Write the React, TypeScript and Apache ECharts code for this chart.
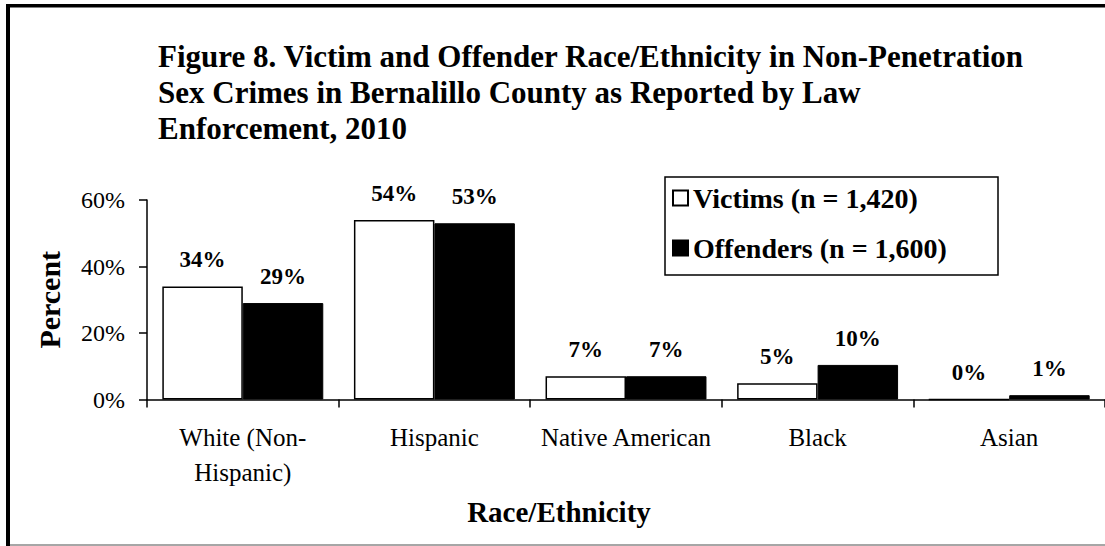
import React, { useEffect, useRef } from "react";
import * as echarts from "echarts";

const categories = ["White (Non-\nHispanic)", "Hispanic", "Native American", "Black", "Asian"];
const victims = [34, 54, 7, 4.9, 0];
const offenders = [29, 53, 7, 10.4, 1.3];
const yTicks = [0, 20, 40, 60];
const titleLines = [
  "Figure 8. Victim and Offender Race/Ethnicity in Non-Penetration",
  "Sex Crimes in Bernalillo County as Reported by Law",
  "Enforcement, 2010",
];
const victimsName = "Victims (n = 1,420)";
const offendersName = "Offenders (n = 1,600)";

const FONT = "'Liberation Serif', 'Times New Roman', serif";

export default function App() {
  const ref = useRef<HTMLDivElement>(null);
  useEffect(() => {
    if (!ref.current) return;
    const chart = echarts.init(ref.current, undefined, { renderer: "svg" });
    const labelCfg = {
      show: true,
      position: "top",
      distance: 15,
      fontFamily: FONT,
      fontWeight: "bold",
      fontSize: 23,
      color: "#000",
      formatter: (p: any) => Math.round(p.value) + "%",
    };
    chart.setOption({
      animation: false,
      backgroundColor: "#fff",
      title: {
        text: titleLines.join("\n"),
        left: 153,
        top: 33,
        textStyle: {
          fontFamily: FONT,
          fontWeight: "bold",
          fontSize: 31,
          lineHeight: 36,
          color: "#000",
        },
      },
      graphic: [
        { type: "rect", shape: { x: 6, y: 4, width: 4, height: 542 }, style: { fill: "#000" } },
        { type: "rect", shape: { x: 6, y: 4, width: 1099, height: 3.5 }, style: { fill: "#000" } },
        { type: "line", shape: { x1: 10, y1: 545, x2: 1105, y2: 545 }, style: { stroke: "#888", lineWidth: 1.5 } },
        {
          type: "rect",
          z: 0,
          shape: { x: 665, y: 177, width: 333, height: 98 },
          style: { fill: "#fff", stroke: "#000", lineWidth: 1.5 },
        },
      ],
      legend: {
        orient: "vertical",
        left: 672,
        top: 183,
        itemWidth: 15,
        itemHeight: 15,
        itemGap: 20,
        padding: 0,
        z: 5,
        textStyle: {
          fontFamily: FONT,
          fontWeight: "bold",
          fontSize: 28,
          lineHeight: 30,
          color: "#000",
        },
        data: [
          { name: victimsName, icon: "rect" },
          { name: offendersName, icon: "rect" },
        ],
      },
      grid: { left: 147, right: -9, top: 200, bottom: 146.5, containLabel: false },
      xAxis: {
        type: "category",
        data: categories,
        name: "Race/Ethnicity",
        nameLocation: "middle",
        nameGap: 98,
        nameTextStyle: {
          fontFamily: FONT,
          fontWeight: "bold",
          fontSize: 29,
          color: "#000",
          padding: [0, 134, 0, 0],
        },
        axisLine: { lineStyle: { color: "#000", width: 1.5 } },
        axisTick: { show: true, length: 8, lineStyle: { color: "#000", width: 1.5 } },
        axisLabel: {
          fontFamily: FONT,
          fontSize: 25,
          lineHeight: 35,
          color: "#000",
          margin: 20,
          interval: 0,
        },
      },
      yAxis: {
        type: "value",
        min: yTicks[0],
        max: yTicks[yTicks.length - 1],
        interval: 20,
        name: "Percent",
        nameLocation: "middle",
        nameGap: 83,
        nameRotate: 90,
        nameTextStyle: {
          fontFamily: FONT,
          fontWeight: "bold",
          fontSize: 30,
          color: "#000",
        },
        splitLine: { show: false },
        axisLine: { show: true, lineStyle: { color: "#000", width: 1.5 } },
        axisTick: { show: true, length: 8, lineStyle: { color: "#000", width: 1.5 } },
        axisLabel: {
          fontFamily: FONT,
          fontSize: 24,
          color: "#000",
          margin: 22,
          formatter: "{value}%",
        },
      },
      series: [
        {
          name: victimsName,
          type: "bar",
          data: victims,
          barGap: "0%",
          barCategoryGap: "16%",
          itemStyle: { color: "#fff", borderColor: "#000", borderWidth: 1.5 },
          label: labelCfg,
        },
        {
          name: offendersName,
          type: "bar",
          data: offenders,
          barGap: "0%",
          barCategoryGap: "16%",
          itemStyle: { color: "#000", borderColor: "#000", borderWidth: 1 },
          label: labelCfg,
        },
      ],
    });
    return () => chart.dispose();
  }, []);
  return (
    <div
      ref={ref}
      style={{ position: "absolute", left: 0, top: 0, width: 1105, height: 546 }}
    />
  );
}
